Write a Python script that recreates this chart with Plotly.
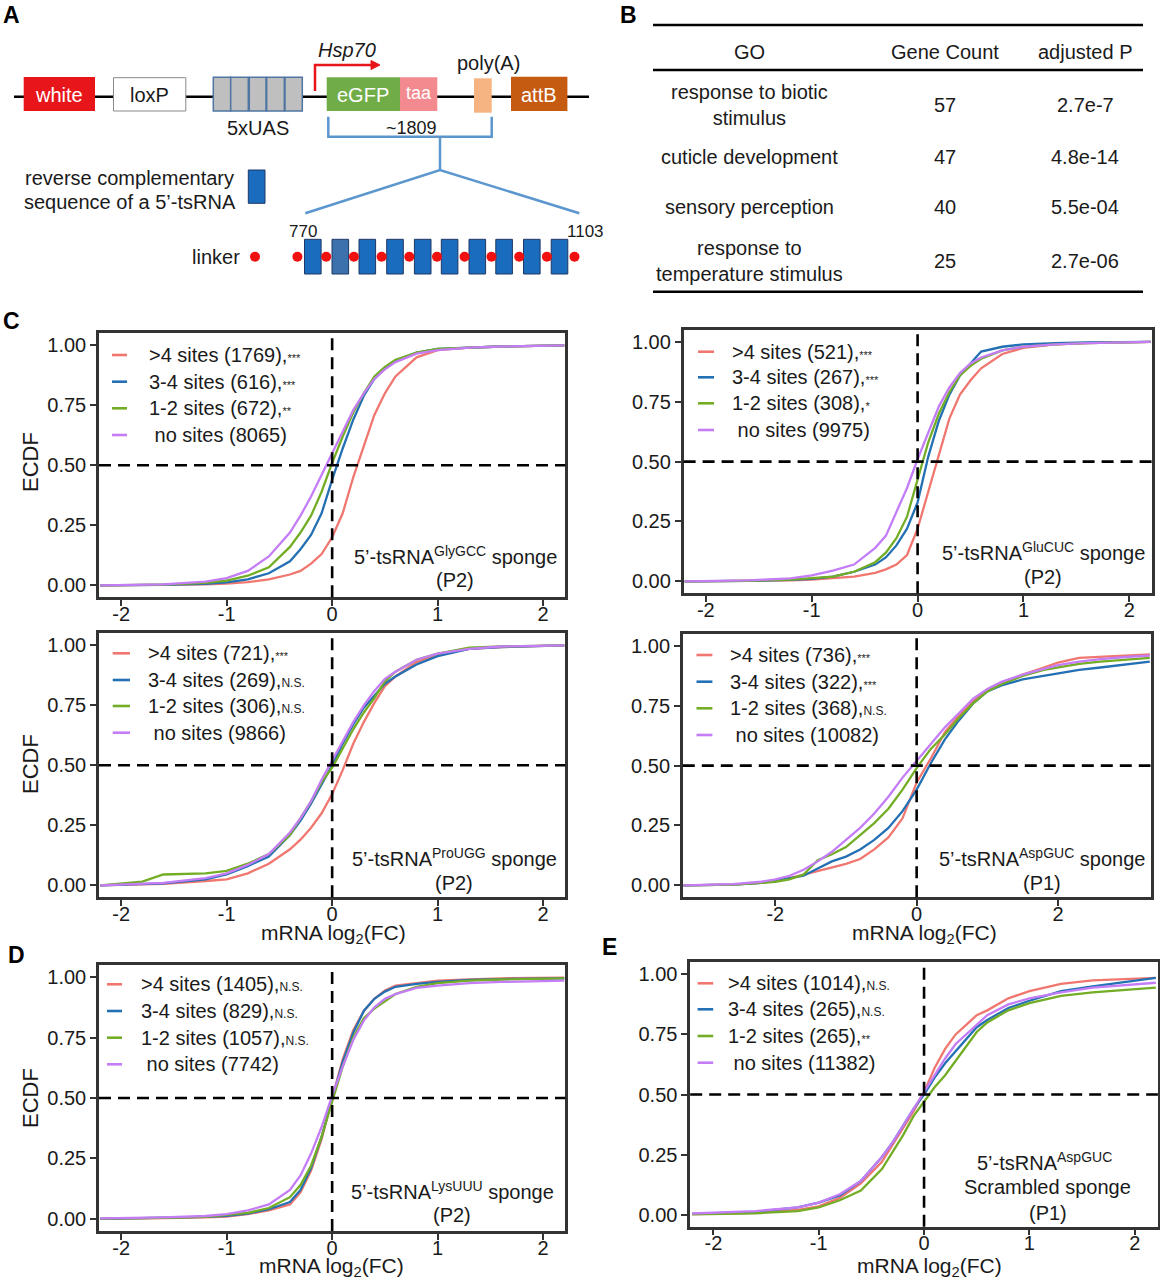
import plotly.graph_objects as go

W, H = 1160, 1280
FONT = "Liberation Sans, Arial, Helvetica, sans-serif"
TXT = "#1a1a1a"

# ------------------------------------------------------------------ data
GRID = [-2.2, -1.8, -1.6, -1.2, -1.0, -0.8, -0.6, -0.4, -0.3, -0.2, -0.1, 0.0,
        0.1, 0.2, 0.3, 0.4, 0.5, 0.6, 0.8, 1.0, 1.3, 1.6, 2.2]
GRID_C4 = [-3.3, -2.6, -2.2, -2.0, -1.8, -1.6, -1.4, -1.2, -1.0, -0.8, -0.6, -0.4, -0.2, 0.0,
           0.2, 0.4, 0.6, 0.8, 1.0, 1.2, 1.5, 1.8, 2.0, 2.3, 2.6, 3.0, 3.3]

# C1: 5'-tsRNA GlyGCC sponge (P2)
C1_GT4 = [0.0, 0.001, 0.002, 0.004, 0.007, 0.013, 0.025, 0.045, 0.06, 0.09, 0.13, 0.20, 0.30, 0.45, 0.58, 0.71, 0.80, 0.87, 0.95, 0.98, 0.99, 0.995, 1.0]
C1_34 = [0.0, 0.001, 0.002, 0.006, 0.012, 0.025, 0.05, 0.10, 0.15, 0.21, 0.30, 0.44, 0.57, 0.69, 0.79, 0.86, 0.905, 0.935, 0.97, 0.985, 0.99, 0.995, 1.0]
C1_12 = [0.0, 0.002, 0.003, 0.01, 0.02, 0.04, 0.075, 0.16, 0.22, 0.29, 0.39, 0.51, 0.62, 0.72, 0.80, 0.87, 0.91, 0.94, 0.97, 0.985, 0.99, 0.995, 1.0]
C1_NO = [0.0, 0.002, 0.004, 0.015, 0.03, 0.06, 0.12, 0.22, 0.29, 0.37, 0.46, 0.55, 0.64, 0.73, 0.80, 0.86, 0.90, 0.93, 0.965, 0.98, 0.99, 0.995, 1.0]
# C2: GluCUC (P2)
C2_GT4 = [0.0, 0.001, 0.002, 0.004, 0.007, 0.013, 0.02, 0.035, 0.05, 0.07, 0.11, 0.22, 0.37, 0.53, 0.68, 0.78, 0.84, 0.89, 0.95, 0.975, 0.99, 0.995, 1.0]
C2_34 = [0.0, 0.001, 0.002, 0.006, 0.01, 0.02, 0.04, 0.07, 0.10, 0.15, 0.22, 0.33, 0.52, 0.67, 0.78, 0.86, 0.91, 0.96, 0.98, 0.99, 0.995, 0.998, 1.0]
C2_12 = [0.0, 0.001, 0.002, 0.007, 0.012, 0.02, 0.04, 0.08, 0.12, 0.18, 0.27, 0.42, 0.58, 0.70, 0.79, 0.86, 0.90, 0.93, 0.965, 0.98, 0.99, 0.995, 1.0]
C2_NO = [0.0, 0.002, 0.004, 0.012, 0.025, 0.045, 0.07, 0.14, 0.19, 0.29, 0.39, 0.51, 0.62, 0.73, 0.81, 0.87, 0.91, 0.935, 0.965, 0.98, 0.99, 0.995, 1.0]
# C3: ProUGG (P2)
C3_GT4 = [0.0, 0.004, 0.006, 0.018, 0.025, 0.05, 0.09, 0.15, 0.19, 0.24, 0.30, 0.38, 0.48, 0.59, 0.68, 0.76, 0.83, 0.87, 0.93, 0.96, 0.985, 0.993, 1.0]
C3_34 = [0.0, 0.005, 0.008, 0.025, 0.045, 0.08, 0.12, 0.21, 0.27, 0.34, 0.42, 0.50, 0.59, 0.67, 0.74, 0.79, 0.84, 0.87, 0.92, 0.955, 0.985, 0.993, 1.0]
C3_12 = [0.0, 0.015, 0.045, 0.05, 0.06, 0.09, 0.13, 0.21, 0.28, 0.35, 0.43, 0.49, 0.57, 0.65, 0.72, 0.78, 0.85, 0.89, 0.94, 0.965, 0.99, 0.995, 1.0]
C3_NO = [0.0, 0.006, 0.01, 0.03, 0.05, 0.085, 0.13, 0.22, 0.28, 0.35, 0.44, 0.52, 0.60, 0.68, 0.75, 0.81, 0.86, 0.89, 0.94, 0.965, 0.985, 0.995, 1.0]
# C4: AspGUC (P1)
C4_GT4 = [0.0, 0.003, 0.01, 0.02, 0.03, 0.045, 0.06, 0.075, 0.09, 0.11, 0.15, 0.20, 0.28, 0.43, 0.53, 0.64, 0.71, 0.77, 0.815, 0.845, 0.88, 0.91, 0.93, 0.95, 0.955, 0.96, 0.965]
C4_34 = [0.0, 0.003, 0.01, 0.02, 0.03, 0.04, 0.07, 0.10, 0.12, 0.15, 0.19, 0.24, 0.31, 0.40, 0.51, 0.61, 0.69, 0.76, 0.81, 0.835, 0.86, 0.875, 0.885, 0.90, 0.91, 0.925, 0.935]
C4_12 = [0.0, 0.003, 0.01, 0.015, 0.025, 0.045, 0.105, 0.13, 0.16, 0.21, 0.26, 0.32, 0.40, 0.49, 0.57, 0.63, 0.70, 0.76, 0.81, 0.84, 0.875, 0.90, 0.91, 0.925, 0.935, 0.945, 0.95]
C4_NO = [0.0, 0.005, 0.015, 0.025, 0.04, 0.065, 0.10, 0.14, 0.19, 0.24, 0.30, 0.37, 0.45, 0.52, 0.59, 0.66, 0.72, 0.78, 0.82, 0.85, 0.88, 0.905, 0.92, 0.935, 0.945, 0.955, 0.96]
# D: LysUUU (P2)
D_GT4 = [0.0, 0.001, 0.003, 0.006, 0.01, 0.02, 0.035, 0.06, 0.11, 0.20, 0.33, 0.50, 0.66, 0.78, 0.86, 0.91, 0.945, 0.965, 0.975, 0.985, 0.99, 0.995, 0.998]
D_34 = [0.0, 0.002, 0.004, 0.008, 0.013, 0.022, 0.04, 0.07, 0.12, 0.21, 0.34, 0.50, 0.65, 0.77, 0.86, 0.91, 0.94, 0.96, 0.972, 0.98, 0.988, 0.992, 0.995]
D_12 = [0.001, 0.002, 0.004, 0.008, 0.015, 0.025, 0.045, 0.09, 0.14, 0.22, 0.34, 0.49, 0.63, 0.75, 0.83, 0.87, 0.90, 0.93, 0.96, 0.975, 0.985, 0.99, 0.995]
D_NO = [0.002, 0.004, 0.006, 0.012, 0.02, 0.035, 0.06, 0.12, 0.18, 0.27, 0.38, 0.51, 0.63, 0.74, 0.82, 0.875, 0.91, 0.93, 0.955, 0.965, 0.975, 0.98, 0.985]
# E: AspGUC scrambled sponge (P1)
E_GT4 = [0.002, 0.005, 0.008, 0.02, 0.035, 0.07, 0.13, 0.22, 0.29, 0.36, 0.43, 0.51, 0.61, 0.69, 0.75, 0.79, 0.83, 0.85, 0.90, 0.93, 0.96, 0.975, 0.985]
E_34 = [0.003, 0.007, 0.012, 0.03, 0.05, 0.08, 0.14, 0.24, 0.30, 0.37, 0.44, 0.50, 0.57, 0.63, 0.68, 0.73, 0.78, 0.81, 0.86, 0.89, 0.93, 0.95, 0.985]
E_12 = [0.001, 0.003, 0.006, 0.015, 0.03, 0.06, 0.10, 0.19, 0.26, 0.33, 0.41, 0.47, 0.53, 0.58, 0.64, 0.70, 0.76, 0.80, 0.85, 0.88, 0.91, 0.925, 0.945]
E_NO = [0.005, 0.01, 0.015, 0.03, 0.05, 0.085, 0.14, 0.24, 0.30, 0.37, 0.44, 0.51, 0.58, 0.65, 0.71, 0.75, 0.79, 0.83, 0.875, 0.90, 0.925, 0.945, 0.965]

LAB_C1 = [">4 sites (1769)", "3-4 sites (616)", "1-2 sites (672)", "no sites (8065)"]
SIG_C1 = ["***", "***", "**", ""]
LAB_C2 = [">4 sites (521)", "3-4 sites (267)", "1-2 sites (308)", "no sites (9975)"]
SIG_C2 = ["***", "***", "*", ""]
LAB_C3 = [">4 sites (721)", "3-4 sites (269)", "1-2 sites (306)", "no sites (9866)"]
SIG_C3 = ["***", "N.S.", "N.S.", ""]
LAB_C4 = [">4 sites (736)", "3-4 sites (322)", "1-2 sites (368)", "no sites (10082)"]
SIG_C4 = ["***", "***", "N.S.", ""]
LAB_D = [">4 sites (1405)", "3-4 sites (829)", "1-2 sites (1057)", "no sites (7742)"]
SIG_D = ["N.S.", "N.S.", "N.S.", ""]
LAB_E = [">4 sites (1014)", "3-4 sites (265)", "1-2 sites (265)", "no sites (11382)"]
SIG_E = ["N.S.", "N.S.", "**", ""]

Y_TICKS = [0, 0.25, 0.5, 0.75, 1.0]
Y_TICKTEXT = ["0.00", "0.25", "0.50", "0.75", "1.00"]

GO_TERMS = ["response to biotic<br>stimulus", "cuticle development", "sensory perception",
            "response to<br>temperature stimulus"]
GENE_COUNTS = [57, 47, 40, 25]
ADJ_P = ["2.7e-7", "4.8e-14", "5.5e-04", "2.7e-06"]

# ------------------------------------------------------------------ styles
COLORS = ["#F0776F", "#2470B4", "#73AD25", "#C47DF6"]
FRAME = "#333333"

shapes = []
annotations = []


def X(px):
    return px / W


def Y(py):
    return 1 - py / H


def ann(px, py, text, size=20, color=TXT, xanchor="center", angle=0, yanchor="middle"):
    annotations.append(dict(x=X(px), y=Y(py), xref="paper", yref="paper", text=text,
                            showarrow=False, xanchor=xanchor, yanchor=yanchor, textangle=angle,
                            font=dict(family=FONT, size=size, color=color)))


def rect(x0, y0, x1, y1, fill, lc=None, lw=0):
    shapes.append(dict(type="rect", xref="paper", yref="paper", x0=X(x0), x1=X(x1),
                       y0=Y(y1), y1=Y(y0), fillcolor=fill,
                       line=dict(color=lc or fill, width=lw)))


def seg(x0, y0, x1, y1, color, width):
    shapes.append(dict(type="line", xref="paper", yref="paper", x0=X(x0), x1=X(x1),
                       y0=Y(y0), y1=Y(y1), line=dict(color=color, width=width)))


def poly(points, color, width, fill=None, close=False):
    d = "M " + " L ".join(f"{X(a):.5f},{Y(b):.5f}" for a, b in points)
    if close:
        d += " Z"
    shapes.append(dict(type="path", xref="paper", yref="paper", path=d,
                       line=dict(color=color, width=width),
                       fillcolor=fill if fill else "rgba(0,0,0,0)"))


def dot(cx, cy, r, color):
    shapes.append(dict(type="circle", xref="paper", yref="paper", x0=X(cx - r), x1=X(cx + r),
                       y0=Y(cy + r), y1=Y(cy - r), fillcolor=color, line=dict(color=color, width=0)))


# ------------------------------------------------------------------ panel A (schematic)
seg(14, 96.7, 589, 96.7, "#000000", 2.5)
rect(23.7, 77, 95, 111, "#E8161B")
ann(59.3, 94.5, "white", 20, "#ffffff")
rect(113.5, 77.7, 185.8, 111, "#ffffff", "#8a8a8a", 1)
ann(149.6, 94.5, "loxP", 20)
for a, b in [(213.3, 230.7), (230.7, 248.3), (249.3, 266), (266.7, 284.3), (285, 302.3)]:
    rect(a, 77.3, b, 111, "#BFBFBF", "#4F76A3", 1.5)
ann(258, 128, "5xUAS", 20)
poly([(315, 91), (315, 65), (372, 65)], "#E8161B", 2.5)
poly([(371, 60.5), (380, 65), (371, 69.5)], "#E8161B", 1, fill="#E8161B", close=True)
ann(346.7, 50, "<i>Hsp70</i>", 20)
rect(326.7, 77.3, 400, 111, "#70AD47")
ann(363.3, 94.5, "eGFP", 20, "#ffffff")
rect(400, 77.3, 437.3, 111, "#F28A8F")
ann(418.7, 92.5, "taa", 18, "#ffffff")
rect(474, 78.3, 491.7, 112.7, "#F6B482")
ann(488, 63, "poly(A)", 20)
rect(511, 76.7, 567.4, 111, "#C55A11")
ann(539, 94.5, "attB", 20, "#ffffff")
BR = "#5B96CF"
poly([(328.3, 116.7), (328.3, 136.7), (491.7, 136.7), (491.7, 116.7)], BR, 2.5)
seg(440, 136.7, 440, 170, BR, 2.5)
poly([(305.3, 213.3), (440, 170), (579.3, 213.3)], BR, 2.5)
ann(411, 127.7, "~1809", 18)
ann(129.5, 178, "reverse complementary", 20)
ann(129.5, 201.7, "sequence of a 5’-tsRNA", 20)
rect(248.3, 170, 265, 203.3, "#1A6CBF", "#1F3864", 1)
ann(242, 256.7, "linker", 20, xanchor="right")
dot(255, 256.7, 5, "#F01010")
ann(302.5, 231.7, "770", 17)
ann(585, 231.7, "1103", 17)
for i, xs in enumerate([304.5, 332, 359, 386.7, 414.4, 441.3, 469, 495.8, 523.5, 551.2]):
    rect(xs, 239.3, xs + 16.6, 274, "#3B72AE" if i == 1 else "#1A6CBF", "#1F3864", 1)
for xd in [297.4, 326.2, 353.9, 381.6, 409.3, 437, 464.6, 491.5, 519.2, 546.9, 574.5]:
    dot(xd, 256.7, 5, "#F01010")

# ------------------------------------------------------------------ panel B (table)
seg(653, 25, 1143, 25, "#000000", 2.5)
seg(653, 70, 1143, 70, "#000000", 2.5)
seg(653, 291.7, 1143, 291.7, "#000000", 2.5)
ann(749, 51.7, "GO", 20)
ann(945.4, 51.7, "Gene Count", 20)
ann(1085, 51.7, "adjusted P", 20)
for yy, term, cnt, p in zip([104.7, 157.3, 207.3, 260.5], GO_TERMS, GENE_COUNTS, ADJ_P):
    ann(749, yy, term, 20)
    ann(945.4, yy, str(cnt), 20)
    ann(1085, yy, p, 20)

# ------------------------------------------------------------------ panel labels
for px, py, t in [(11, 15, "A"), (628, 15, "B"), (11, 321, "C"), (16.5, 955, "D"), (609, 947, "E")]:
    ann(px, py, f"<b>{t}</b>", 23, "#000000")

# ------------------------------------------------------------------ ECDF panels
PANELS = [
    dict(box=(99, 333.3, 565.3, 597.3), xr=(-2.21, 2.21), xt=[-2, -1, 0, 1, 2], grid=GRID,
         ys=[C1_GT4, C1_34, C1_12, C1_NO], lab=LAB_C1, sig=SIG_C1,
         leg=((13, 28), 47.5, [21.7, 48.4, 75, 101.7]),
         txt=[(455, 555, "5’-tsRNA<sup>GlyGCC</sup> sponge"), (454.7, 580.3, "(P2)")],
         ecdf=(30, 462), xlab=None),
    dict(box=(683.6, 330, 1151.6, 593.3), xr=(-2.21, 2.21), xt=[-2, -1, 0, 1, 2], grid=GRID,
         ys=[C2_GT4, C2_34, C2_12, C2_NO], lab=LAB_C2, sig=SIG_C2,
         leg=((14.4, 30.4), 46.5, [21.7, 47.3, 73.3, 100]),
         txt=[(1043.4, 551, "5’-tsRNA<sup>GluCUC</sup> sponge"), (1043.4, 576.7, "(P2)")],
         ecdf=None, xlab=None),
    dict(box=(99, 633.3, 565.3, 897.3), xr=(-2.21, 2.21), xt=[-2, -1, 0, 1, 2], grid=GRID,
         ys=[C3_GT4, C3_34, C3_12, C3_NO], lab=LAB_C3, sig=SIG_C3,
         leg=((13.7, 31), 47, [20, 46.7, 72.7, 99.4]),
         txt=[(454, 857.3, "5’-tsRNA<sup>ProUGG</sup> sponge"), (454, 883.3, "(P2)")],
         ecdf=(30, 764), xlab=(333, 934)),
    dict(box=(682.8, 634, 1150.5, 897.3), xr=(-3.31, 3.31), xt=[-2, 0, 2], grid=GRID_C4,
         ys=[C4_GT4, C4_34, C4_12, C4_NO], lab=LAB_C4, sig=SIG_C4,
         leg=((13.7, 29.6), 45.2, [21, 47.7, 74.3, 101]),
         txt=[(1041.6, 857.3, "5’-tsRNA<sup>AspGUC</sup> sponge"), (1041.6, 883.3, "(P1)")],
         ecdf=None, xlab=(924, 934)),
    dict(box=(99, 965, 565.3, 1231), xr=(-2.21, 2.21), xt=[-2, -1, 0, 1, 2], grid=GRID,
         ys=[D_GT4, D_34, D_12, D_NO], lab=LAB_D, sig=SIG_D,
         leg=((8, 23), 39.7, [19.3, 46, 72.7, 99.3]),
         txt=[(452, 1190, "5’-tsRNA<sup>LysUUU</sup> sponge"), (452, 1215, "(P2)")],
         ecdf=(30, 1098), xlab=(331, 1266.7)),
    dict(box=(690.2, 962.3, 1157.9, 1226.7), xr=(-2.22, 2.22), xt=[-2, -1, 0, 1, 2], grid=GRID,
         ys=[E_GT4, E_34, E_12, E_NO], lab=LAB_E, sig=SIG_E,
         leg=((7.4, 23), 36, [21, 47, 73.7, 100.4]),
         txt=[(1044.4, 1161.7, "5’-tsRNA<sup>AspGUC</sup>"), (1047, 1187.3, "Scrambled sponge"),
              (1047.6, 1212.7, "(P1)")],
         ecdf=None, xlab=(929.6, 1266.7)),
]

fig = go.Figure()
layout_axes = {}
for i, p in enumerate(PANELS, start=1):
    sfx = "" if i == 1 else str(i)
    left, top, right, bottom = p["box"]
    axis_common = dict(showline=True, mirror=True, linecolor=FRAME, linewidth=2.5,
                       ticks="outside", ticklen=6, tickwidth=2, tickcolor=FRAME,
                       showgrid=False, zeroline=False,
                       tickfont=dict(family=FONT, size=20, color=TXT))
    layout_axes[f"xaxis{sfx}"] = dict(domain=[X(left), X(right)], anchor=f"y{sfx}",
                                      range=list(p["xr"]), tickvals=p["xt"],
                                      ticktext=[str(v) for v in p["xt"]],
                                      ticklabelstandoff=-9, **axis_common)
    layout_axes[f"yaxis{sfx}"] = dict(domain=[Y(bottom), Y(top)], anchor=f"x{sfx}",
                                      range=[-0.05, 1.05], tickvals=Y_TICKS,
                                      ticktext=Y_TICKTEXT, **axis_common)
    for ys, col in zip(p["ys"], COLORS):
        fig.add_trace(go.Scatter(x=p["grid"], y=ys, mode="lines", xaxis=f"x{sfx}", yaxis=f"y{sfx}",
                                 line=dict(color=col, width=2.3), showlegend=False,
                                 hoverinfo="skip"))
    # reference lines
    shapes.append(dict(type="line", xref=f"x{sfx}", yref=f"y{sfx} domain", x0=0, x1=0, y0=0, y1=1,
                       line=dict(color="#000000", width=2.6, dash="12px,7px")))
    shapes.append(dict(type="line", xref=f"x{sfx} domain", yref=f"y{sfx}", x0=0, x1=1, y0=0.5, y1=0.5,
                       line=dict(color="#000000", width=2.6, dash="12px,7px")))
    # legend
    (s0, s1), tx, rows = p["leg"]
    for lab, sig, col, ry in zip(p["lab"], p["sig"], COLORS, rows):
        seg(left + s0, top + ry, left + s1, top + ry, col, 2.6)
        if sig == "N.S.":
            t = f"{lab},<span style='font-size:12px'>N.S.</span>"
        elif sig:
            t = f"{lab},<span style='font-size:11px'>{sig}</span>"
        else:
            t = " " + lab
        ann(left + tx, top + ry, t, 20, xanchor="left")
    for (ax_, ay_, t) in p["txt"]:
        ann(ax_, ay_, t, 20)
    if p["ecdf"]:
        ann(p["ecdf"][0], p["ecdf"][1], "ECDF", 22, angle=-90)
    if p["xlab"]:
        ann(p["xlab"][0], p["xlab"][1], "mRNA log<sub>2</sub>(FC)", 21)

fig.update_layout(width=W, height=H, autosize=False, margin=dict(l=0, r=0, t=0, b=0),
                  paper_bgcolor="#ffffff", plot_bgcolor="#ffffff", showlegend=False,
                  shapes=shapes, annotations=annotations,
                  font=dict(family=FONT, color=TXT), **layout_axes)
fig.write_html("out.html")
